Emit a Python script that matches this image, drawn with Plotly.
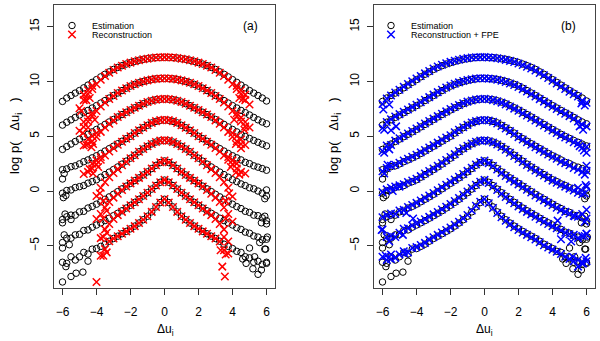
import plotly.graph_objects as go

N = None

# common grid of increments (Delta u_i)
x_grid = [-6, -5.75, -5.5, -5.25, -5, -4.75, -4.5, -4.25, -4, -3.75, -3.5, -3.25,
          -3, -2.75, -2.5, -2.25, -2, -1.75, -1.5, -1.25, -1, -0.75, -0.5, -0.25,
          0, 0.25, 0.5, 0.75, 1, 1.25, 1.5, 1.75, 2, 2.25, 2.5, 2.75, 3, 3.25,
          3.5, 3.75, 4, 4.25, 4.5, 4.75, 5, 5.25, 5.5, 5.75, 6]

# Estimation (black circles), one list per scale, shifted vertically
est_1 = [8.18, 8.49, 8.72, 8.94, 9.17, 9.42, 9.67, 9.92, 10.17, 10.42, 10.66, 10.88, 11.10, 11.28, 11.44, 11.59, 11.72, 11.84, 11.94, 12.02, 12.08, 12.14, 12.18, 12.19,
         12.20, 12.19, 12.18, 12.14, 12.08, 12.02, 11.94, 11.84, 11.72, 11.59, 11.44, 11.28, 11.10, 10.88, 10.66, 10.42, 10.17, 9.92, 9.67, 9.42, 9.17, 8.94, 8.72, 8.49, 8.22]
est_2 = [6.02, 6.28, 6.50, 6.72, 6.94, 7.15, 7.36, 7.58, 7.80, 8.03, 8.26, 8.49, 8.72, 8.95, 9.17, 9.39, 9.58, 9.74, 9.88, 10.00, 10.10, 10.18, 10.24, 10.27,
         10.28, 10.27, 10.24, 10.18, 10.10, 10.00, 9.88, 9.74, 9.58, 9.39, 9.17, 8.95, 8.72, 8.49, 8.26, 8.03, 7.80, 7.58, 7.36, 7.15, 6.94, 6.72, 6.50, 6.30, 6.14]
est_3 = [3.80, 4.06, 4.29, 4.52, 4.74, 4.96, 5.18, 5.40, 5.62, 5.85, 6.08, 6.31, 6.53, 6.76, 6.98, 7.19, 7.40, 7.60, 7.79, 7.97, 8.12, 8.24, 8.33, 8.38,
         8.40, 8.38, 8.33, 8.24, 8.12, 7.97, 7.79, 7.60, 7.40, 7.19, 6.98, 6.76, 6.53, 6.31, 6.08, 5.85, 5.62, 5.40, 5.18, 4.98, 4.80, 4.62, 4.45, 4.28, 4.12]
est_4 = [1.95, 2.02, 2.22, 2.30, 2.48, 2.68, 2.84, 3.03, 3.22, 3.43, 3.65, 3.87, 4.09, 4.32, 4.55, 4.78, 5.00, 5.29, 5.54, 5.78, 6.00, 6.22, 6.36, 6.45,
         6.48, 6.45, 6.36, 6.22, 6.00, 5.78, 5.54, 5.29, 5.00, 4.78, 4.55, 4.32, 4.09, 3.87, 3.65, 3.43, 3.22, 3.03, 2.84, 2.62, 2.50, 2.30, 2.18, 2.05, 1.90]
est_5 = [-0.20, 0.05, 0.10, 0.32, 0.40, 0.50, 0.72, 0.86, 1.03, 1.26, 1.50, 1.73, 1.96, 2.20, 2.46, 2.73, 3.00, 3.27, 3.58, 3.84, 4.08, 4.30, 4.47, 4.58,
         4.62, 4.58, 4.47, 4.30, 4.08, 3.84, 3.58, 3.27, 3.00, 2.73, 2.46, 2.20, 1.96, 1.73, 1.50, 1.26, 1.03, 0.86, 0.65, 0.50, 0.30, 0.20, 0.00, -0.20, -0.45]
est_6 = [-2.60, -2.35, -2.20, -2.20, -1.90, -1.85, -1.55, -1.40, -1.20, -0.98, -0.75, -0.53, -0.30, -0.05, 0.20, 0.45, 0.70, 0.95, 1.20, 1.47, 1.75, 2.05, 2.35, 2.60,
         2.75, 2.60, 2.35, 2.05, 1.75, 1.47, 1.20, 0.95, 0.70, 0.45, 0.20, -0.05, -0.30, -0.53, -0.75, -0.98, -1.20, -1.42, -1.60, -1.85, -1.95, -2.20, -2.25, -2.45, -2.70]
est_7 = [-4.70, -4.30, -4.30, -4.00, -3.95, -3.60, -3.55, -3.30, -3.10, -2.90, -2.70, -2.48, -2.25, -2.03, -1.80, -1.55, -1.30, -1.03, -0.75, -0.45, -0.15, 0.18, 0.50, 0.80,
         1.00, 0.80, 0.50, 0.18, -0.15, -0.45, -0.75, -1.03, -1.30, -1.55, -1.80, -2.03, -2.25, -2.48, -2.70, -2.90, -3.10, -3.35, -3.50, -3.75, -3.85, -4.10, -4.20, -4.45, -4.40]
est_8 = [-6.50, -6.60, -6.00, -6.30, -6.00, -5.60, -5.75, -5.30, -5.25, -5.05, -4.85, -4.58, -4.33, -4.12, -3.90, -3.68, -3.45, -3.20, -2.92, -2.62, -2.30, -1.90, -1.45, -1.05,
         -0.75, -1.05, -1.45, -1.90, -2.30, -2.62, -2.92, -3.20, -3.45, -3.68, -3.90, -4.12, -4.33, -4.58, -4.85, -5.05, -5.25, -5.50, -5.60, -6.00, -6.10, -6.50, -6.40, -6.70, -6.50]

# scattered tail points of the estimation
est_extra_x = [-6.0, -5.9, -5.95, -5.8, 5.9, 6.0, -6.0, -5.85, -5.5, 5.9, 6.0, 5.7,
               -6.0, -5.9, -5.6, 5.0, 5.9, 5.6, 6.05,
               -6.0, -5.5, -5.2, -4.8, -5.8, -4.5, 4.8, 5.2, 5.5, 5.7, 5.3, 6.0, 5.95, 4.6]
est_extra_y = [1.1, 1.6, -0.6, -0.4, -0.7, 0.1, -2.9, -2.1, -2.6, -2.3, -3.0, -2.9,
               -5.2, -4.0, -4.9, -5.2, -5.3, -4.7, -4.2,
               -8.3, -7.8, -7.5, -7.4, -6.9, -6.4, -6.6, -7.1, -7.6, -7.2, -6.0, -6.6, -5.3, -6.2]

# Reconstruction (red crosses)
rec_1 = [N, N, N, N, 7.55, 8.30, 8.85, 9.32, 9.75, 10.15, 10.50, 10.80, 11.05, 11.28, 11.44, 11.59, 11.72, 11.84, 11.94, 12.02, 12.08, 12.14, 12.18, 12.21,
         12.22, 12.21, 12.18, 12.14, 12.08, 12.02, 11.94, 11.84, 11.72, 11.59, 11.44, 11.28, 11.05, 10.80, 10.50, 10.15, 9.75, 9.32, 8.85, 8.30, 7.90, N, N, N, N]
rec_2 = [N, N, N, N, 5.50, 5.85, 6.35, 6.85, 7.30, 7.72, 8.08, 8.40, 8.68, 8.95, 9.17, 9.39, 9.58, 9.74, 9.88, 10.00, 10.10, 10.18, 10.24, 10.28,
         10.30, 10.28, 10.24, 10.18, 10.10, 10.00, 9.88, 9.74, 9.58, 9.39, 9.17, 8.95, 8.68, 8.40, 8.08, 7.72, 7.30, 6.85, 6.35, 5.90, 5.80, N, N, N, N]
rec_3 = [N, N, N, N, N, 4.15, 4.30, 4.55, 4.95, 5.40, 5.80, 6.15, 6.45, 6.76, 6.98, 7.19, 7.40, 7.60, 7.79, 7.97, 8.12, 8.24, 8.33, 8.39,
         8.42, 8.39, 8.33, 8.24, 8.12, 7.97, 7.79, 7.60, 7.40, 7.19, 6.98, 6.76, 6.45, 6.15, 5.80, 5.40, 4.95, 4.55, 4.30, 4.20, N, N, N, N, N]
rec_4 = [N, N, N, N, N, 1.55, 1.75, 2.05, 2.45, 2.85, 3.25, 3.60, 3.92, 4.22, 4.50, 4.78, 5.00, 5.29, 5.54, 5.78, 6.00, 6.22, 6.38, 6.47,
         6.50, 6.47, 6.38, 6.22, 6.00, 5.78, 5.54, 5.29, 5.00, 4.78, 4.50, 4.22, 3.92, 3.60, 3.25, 2.85, 2.45, 2.05, 1.75, 1.60, N, N, N, N, N]
rec_5 = [N, N, N, N, N, N, N, N, -0.45, 0.30, 0.80, 1.25, 1.65, 2.00, 2.35, 2.68, 3.00, 3.27, 3.58, 3.84, 4.08, 4.30, 4.48, 4.60,
         4.65, 4.60, 4.48, 4.30, 4.08, 3.84, 3.58, 3.27, 3.00, 2.68, 2.35, 2.00, 1.65, 1.25, 0.80, 0.30, -0.50, N, N, N, N, N, N, N, N]
rec_6 = [N, N, N, N, N, N, N, N, -2.55, -2.10, -1.50, -1.00, -0.60, -0.25, 0.10, 0.42, 0.70, 0.95, 1.20, 1.47, 1.75, 2.05, 2.35, 2.62,
         2.78, 2.62, 2.35, 2.05, 1.75, 1.47, 1.20, 0.95, 0.70, 0.42, 0.10, -0.25, -0.60, -1.00, -1.50, -2.10, -2.80, N, N, N, N, N, N, N, N]
rec_7 = [N, N, N, N, N, N, N, N, N, -4.30, -3.50, -3.00, -2.55, -2.20, -1.90, -1.60, -1.30, -1.03, -0.75, -0.45, -0.15, 0.18, 0.50, 0.80,
         1.02, 0.80, 0.50, 0.18, -0.15, -0.45, -0.75, -1.03, -1.30, -1.60, -1.90, -2.20, -2.55, -3.00, -3.50, -4.60, N, N, N, N, N, N, N, N, N]
rec_8 = [N, N, N, N, N, N, N, N, N, -5.90, -5.30, -4.58, -4.33, -4.12, -3.90, -3.68, -3.45, -3.20, -2.92, -2.62, -2.30, -1.90, -1.45, -1.05,
         -0.72, -1.05, -1.45, -1.90, -2.30, -2.62, -2.92, -3.20, -3.45, -3.68, -3.90, -4.12, -4.33, -4.60, -5.40, -5.70, N, N, N, N, N, N, N, N, N]

# outliers and the spread of the reconstruction fans near the ends
rec_extra_x = [-4.0, 3.4, 3.55, -4.6, -4.9, 4.6, -4.8, -4.5, 4.7, -4.6, -4.3, 4.5,
               -4.4, -4.2, 4.2, 4.4, -3.8, -3.6, 3.8, 3.6, -3.6, 3.6, -3.4,
               -3.6, 3.5, -3.4, -3.6, -3.4, 3.6, 3.3,
               -4.75, -4.5, -4.25, 4.25, 4.5, 4.75, -4.4, 4.4,
               -4.75, -4.5, -4.25, 4.25, 4.5, 4.75, -4.1, 4.1,
               -4.5, -4.25, -4.0, 4.0, 4.25, 4.5, -4.2, 4.2,
               -4.25, -4.0, -3.75, 3.75, 4.0, 4.25, -3.9, 3.9]
rec_extra_y = [-8.3, -6.9, -7.8, 8.3, 7.3, 8.4, 5.3, 5.8, 5.6, 4.2, 4.0, 3.9,
               2.0, 1.6, 1.7, 1.5, -0.2, -0.9, -0.2, -0.9, -2.5, -2.5, -1.8,
               -4.2, -4.2, -3.8, -5.9, -5.6, -5.8, -5.4,
               8.8, 9.2, 9.6, 9.6, 9.2, 8.8, 8.5, 8.5,
               6.3, 6.7, 7.1, 7.1, 6.7, 6.3, 6.5, 6.5,
               4.7, 5.0, 5.3, 5.3, 5.0, 4.7, 4.3, 4.3,
               2.5, 2.8, 3.1, 3.1, 2.8, 2.5, 2.2, 2.2]

# Reconstruction + FPE (blue crosses)
fpe_1 = [7.95, 8.45, 8.72, 9.00, 9.25, 9.52, 9.77, 10.02, 10.27, 10.50, 10.74, 10.96, 11.18, 11.36, 11.52, 11.66, 11.79, 11.90, 11.99, 12.07, 12.13, 12.18, 12.21, 12.22,
         12.23, 12.20, 12.17, 12.12, 12.05, 11.97, 11.88, 11.77, 11.64, 11.50, 11.35, 11.18, 11.00, 10.78, 10.56, 10.32, 10.07, 9.82, 9.57, 9.32, 9.07, 8.84, 8.62, 8.25, 8.05]
fpe_2 = [5.75, 6.30, 6.55, 6.80, 7.02, 7.23, 7.44, 7.66, 7.88, 8.11, 8.34, 8.57, 8.80, 9.03, 9.24, 9.45, 9.64, 9.79, 9.92, 10.04, 10.14, 10.21, 10.27, 10.29,
         10.30, 10.26, 10.22, 10.15, 10.06, 9.95, 9.82, 9.67, 9.50, 9.30, 9.08, 8.85, 8.62, 8.39, 8.16, 7.93, 7.70, 7.48, 7.26, 7.05, 6.84, 6.62, 6.35, 6.05, 5.90]
fpe_3 = [3.65, 4.15, 4.20, 4.60, 4.82, 5.04, 5.26, 5.48, 5.70, 5.93, 6.16, 6.39, 6.61, 6.84, 7.06, 7.27, 7.48, 7.67, 7.85, 8.02, 8.16, 8.27, 8.35, 8.40,
         8.42, 8.37, 8.30, 8.20, 8.07, 7.91, 7.72, 7.52, 7.32, 7.10, 6.89, 6.67, 6.44, 6.21, 5.98, 5.75, 5.52, 5.30, 5.08, 4.88, 4.70, 4.45, 4.35, 3.95, 4.05]
fpe_4 = [1.80, 2.10, 2.30, 2.40, 2.58, 2.78, 2.94, 3.13, 3.32, 3.53, 3.75, 3.97, 4.19, 4.42, 4.65, 4.88, 5.10, 5.37, 5.60, 5.83, 6.04, 6.25, 6.38, 6.46,
         6.49, 6.43, 6.33, 6.17, 5.94, 5.71, 5.47, 5.21, 4.92, 4.70, 4.46, 4.23, 4.00, 3.78, 3.56, 3.34, 3.13, 2.94, 2.70, 2.55, 2.35, 2.10, 1.95, 1.75, 1.85]
fpe_5 = [-0.10, 0.15, 0.30, 0.42, 0.52, 0.62, 0.82, 0.96, 1.13, 1.36, 1.60, 1.83, 2.06, 2.30, 2.56, 2.83, 3.10, 3.37, 3.66, 3.90, 4.13, 4.34, 4.50, 4.60,
         4.63, 4.55, 4.43, 4.24, 4.02, 3.77, 3.50, 3.19, 2.92, 2.65, 2.38, 2.12, 1.88, 1.65, 1.42, 1.18, 0.95, 0.76, 0.58, 0.40, 0.22, 0.05, -0.15, -0.30, 0.40]
fpe_6 = [-2.40, -2.20, -2.05, -2.10, -1.78, -1.72, -1.45, -1.28, -1.08, -0.86, -0.63, -0.41, -0.18, 0.07, 0.32, 0.57, 0.82, 1.06, 1.30, 1.56, 1.84, 2.13, 2.42, 2.65,
         2.78, 2.55, 2.28, 1.97, 1.66, 1.38, 1.11, 0.86, 0.61, 0.36, 0.11, -0.14, -0.40, -0.63, -0.85, -1.08, -1.30, -1.52, -1.72, -1.90, -2.05, -2.25, -2.35, -2.10, -2.50]
fpe_7 = [-3.50, -4.20, -4.10, -4.20, -3.80, -3.45, -3.40, -3.15, -2.98, -2.78, -2.58, -2.36, -2.13, -1.91, -1.68, -1.43, -1.18, -0.91, -0.63, -0.34, -0.04, 0.28, 0.58, 0.85,
         1.02, 0.74, 0.42, 0.10, -0.24, -0.54, -0.84, -1.12, -1.40, -1.65, -1.90, -2.13, -2.35, -2.58, -2.80, -3.00, -3.20, -3.40, -3.60, -3.80, -3.95, -4.00, -4.30, -4.10, -3.90]
fpe_8 = [-6.00, -6.30, -5.80, -6.10, -5.80, -5.50, -5.60, -5.20, -5.12, -4.93, -4.73, -4.46, -4.21, -4.00, -3.78, -3.56, -3.33, -3.08, -2.80, -2.50, -2.18, -1.78, -1.35, -0.98,
         -0.72, -1.12, -1.55, -2.00, -2.40, -2.72, -3.02, -3.30, -3.55, -3.78, -4.00, -4.22, -4.43, -4.68, -4.95, -5.15, -5.35, -5.55, -5.75, -6.00, -6.20, -6.40, -6.30, -6.60, -6.40]

fpe_extra_x = [-5.95, -5.6, 5.9, 5.7, -5.9, -5.5, -5.2, 5.8, 5.6, -5.9, -5.6, 5.85, 5.6, 6.0,
               -5.9, -5.7, 5.9, 6.0, -5.4, -5.0, 5.5, 5.9, 5.95, -4.2, -4.6, 5.9, 5.3, 4.3, 6.0,
               -6.05, -4.8, -5.6, 4.5, 5.1, 5.9, 6.0, -5.8, -5.5, -4.7, 5.2, 5.8, 5.95, 5.5]
fpe_extra_y = [7.45, 7.9, 7.8, 8.0, 5.6, 5.55, 5.9, 5.6, 5.9, 3.5, 3.8, 3.7, 4.1, 3.5,
               1.6, 2.4, 1.5, 2.3, 0.0, 0.4, 0.3, -0.2, 0.55, -2.5, -2.0, -2.8, -2.3, -2.7, -1.7,
               -3.55, -4.0, -4.6, -4.4, -4.6, -4.1, -3.9, -5.9, -6.2, -5.7, -6.0, -6.6, -6.1, -6.9]

x_ticks = [-6, -4, -2, 0, 2, 4, 6]
y_ticks = [-5, 0, 5, 10, 15]


def flatten(curves, extra_x, extra_y):
    xs, ys = [], []
    for c in curves:
        xs += x_grid + [None]
        ys += c + [None]
    return xs + extra_x, ys + extra_y


est_x, est_y = flatten([est_1, est_2, est_3, est_4, est_5, est_6, est_7, est_8], est_extra_x, est_extra_y)
rec_x, rec_y = flatten([rec_1, rec_2, rec_3, rec_4, rec_5, rec_6, rec_7, rec_8], rec_extra_x, rec_extra_y)
fpe_x, fpe_y = flatten([fpe_1, fpe_2, fpe_3, fpe_4, fpe_5, fpe_6, fpe_7, fpe_8], fpe_extra_x, fpe_extra_y)

FONT = "Liberation Sans, Arial, sans-serif"
circ = dict(symbol="circle-open", size=6.5, color="black", line=dict(width=1, color="black"))
red_x = dict(symbol="x-thin", size=7.5, color="#ff0000", line=dict(width=1.5, color="#ff0000"))
blue_x = dict(symbol="x-thin", size=7.5, color="#0000ff", line=dict(width=1.5, color="#0000ff"))

fig = go.Figure()
fig.add_trace(go.Scatter(x=est_x, y=est_y, mode="markers", marker=circ, name="Estimation",
                         xaxis="x", yaxis="y", legend="legend", showlegend=True))
fig.add_trace(go.Scatter(x=rec_x, y=rec_y, mode="markers", marker=red_x, name="Reconstruction",
                         xaxis="x", yaxis="y", legend="legend2", showlegend=True))
fig.add_trace(go.Scatter(x=est_x, y=est_y, mode="markers", marker=circ, name="Estimation",
                         xaxis="x2", yaxis="y2", legend="legend3", showlegend=True))
fig.add_trace(go.Scatter(x=fpe_x, y=fpe_y, mode="markers", marker=blue_x, name="Reconstruction + FPE",
                         xaxis="x2", yaxis="y2", legend="legend4", showlegend=True))

ax = dict(range=[-6.5, 6.5], tickvals=x_ticks, ticks="outside", ticklen=6, tickwidth=1,
          tickcolor="#333", showline=True, mirror=True, linecolor="#444", linewidth=1,
          showgrid=False, zeroline=False, ticklabelstandoff=7,
          tickfont=dict(family=FONT, size=12, color="black"))
ay = dict(range=[-8.85, 16.98], tickvals=y_ticks, ticks="outside", ticklen=6, tickwidth=1,
          tickcolor="#333", showline=True, mirror=True, linecolor="#444", linewidth=1,
          showgrid=False, zeroline=False, tickangle=-90, ticklabelstandoff=3,
          tickfont=dict(family=FONT, size=12, color="black"))

leg = dict(bgcolor="rgba(0,0,0,0)", borderwidth=0, font=dict(family=FONT, size=9, color="black"),
           xanchor="left", yanchor="top", itemclick=False, visible=True)

lab = dict(xref="paper", yref="paper", showarrow=False, xanchor="center", yanchor="middle",
           font=dict(family=FONT, size=12, color="black"))
ytitle = "log p(&nbsp;&nbsp;&nbsp;Δu<sub>i</sub>&nbsp;&nbsp;&nbsp;)"

fig.update_layout(
    width=600, height=341, margin=dict(l=0, r=0, t=0, b=0),
    paper_bgcolor="white", plot_bgcolor="white", showlegend=True,
    xaxis=dict(ax, domain=[54 / 600, 275 / 600], anchor="y"),
    yaxis=dict(ay, domain=[1 - 288 / 341, 1 - 5 / 341], anchor="x"),
    xaxis2=dict(ax, domain=[374 / 600, 595 / 600], anchor="y2"),
    yaxis2=dict(ay, domain=[1 - 288 / 341, 1 - 5 / 341], anchor="x2"),
    legend=dict(leg, x=52 / 600, y=1 - 11 / 341),
    legend2=dict(leg, x=52 / 600, y=1 - 20 / 341),
    legend3=dict(leg, x=371 / 600, y=1 - 11 / 341),
    legend4=dict(leg, x=371 / 600, y=1 - 20 / 341),
    annotations=[
        dict(lab, text="(a)", x=250 / 600, y=1 - 26 / 341),
        dict(lab, text="(b)", x=568 / 600, y=1 - 26 / 341),
        dict(lab, text="Δu<sub>i</sub>", x=165 / 600, y=1 - 330 / 341),
        dict(lab, text="Δu<sub>i</sub>", x=484 / 600, y=1 - 330 / 341),
        dict(lab, text=ytitle, x=15 / 600, y=1 - 136 / 341, textangle=-90,
             font=dict(family=FONT, size=13, color="black")),
        dict(lab, text=ytitle, x=334 / 600, y=1 - 136 / 341, textangle=-90,
             font=dict(family=FONT, size=13, color="black")),
    ],
)

fig.write_html("out.html", config={"displayModeBar": False},
               post_script="document.body.style.margin='0';")
